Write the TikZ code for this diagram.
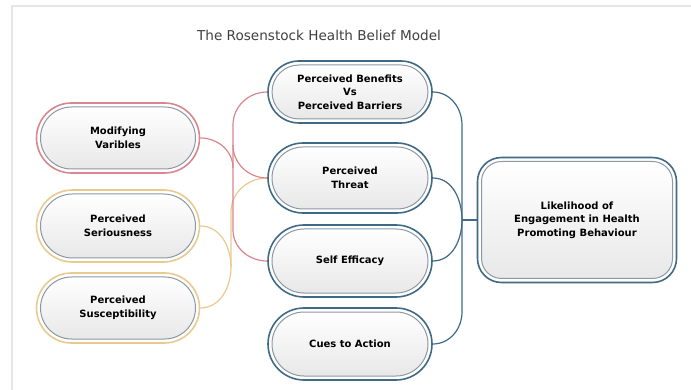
\documentclass[tikz,border=0pt]{standalone}
\usepackage{fontspec}
\setmainfont{DejaVu Sans}
\usetikzlibrary{shapes.misc}
\definecolor{hbmred}{HTML}{D9868C}
\definecolor{hbmorange}{HTML}{E8CA8E}
\definecolor{hbmblue}{HTML}{3F6A86}
\definecolor{hbminner}{HTML}{8E98A3}
\definecolor{hbmfill}{HTML}{E8E8E8}

\begin{document}
\begin{tikzpicture}[x=1pt,y=-1pt,
  outerbox/.style={rounded rectangle, draw=#1, line width=1.6pt, fill=white, inner sep=0pt},
  innerbox/.style={rounded rectangle, draw=hbminner, line width=1pt, top color=white, bottom color=hbmfill,
    align=center, font=\bfseries\fontsize{10}{13.5}\selectfont, inner sep=0pt},
  link/.style={line width=1.2pt, draw=#1},
]

\useasboundingbox (0,0) rectangle (691,390);

% faint panel edge
\draw[gray!20, line width=1.5pt] (12,390) -- (12,6) -- (691,6);

\node[font=\fontsize{13.6}{16}\selectfont, text=black!75] (title) at (319,35) {The Rosenstock Health Belief Model};

% left column
\node[outerbox=hbmred, minimum width=163pt, minimum height=70pt] (mod) at (118,138) {};
\node[innerbox, minimum width=155pt, minimum height=62pt] (mod-in) at (mod) {Modifying\\Varibles};

\node[outerbox=hbmorange, minimum width=163pt, minimum height=72pt] (ser) at (118,226) {};
\node[innerbox, minimum width=155pt, minimum height=64pt] (ser-in) at (ser) {Perceived\\Seriousness};

\node[outerbox=hbmorange, minimum width=163pt, minimum height=70pt] (sus) at (118,308) {};
\node[innerbox, minimum width=155pt, minimum height=62pt] (sus-in) at (sus) {Perceived\\Susceptibility};

% middle column
\node[outerbox=hbmblue, minimum width=164pt, minimum height=62pt] (ben) at (350,92) {};
\node[innerbox, minimum width=156pt, minimum height=54pt] (ben-in) at (ben) {Perceived Benefits\\Vs\\Perceived Barriers};

\node[outerbox=hbmblue, minimum width=164pt, minimum height=70pt] (thr) at (350,178) {};
\node[innerbox, minimum width=156pt, minimum height=62pt] (thr-in) at (thr) {Perceived\\Threat};

\node[outerbox=hbmblue, minimum width=164pt, minimum height=72pt] (eff) at (350,261) {};
\node[innerbox, minimum width=156pt, minimum height=64pt] (eff-in) at (eff) {Self Efficacy};

\node[outerbox=hbmblue, minimum width=164pt, minimum height=72pt] (cue) at (350,344) {};
\node[innerbox, minimum width=156pt, minimum height=64pt] (cue-in) at (cue) {Cues to Action};

% right box
\node[draw=hbmblue, line width=1.6pt, fill=white, rectangle, rounded corners=24pt,
      minimum width=199pt, minimum height=125pt] (lik) at (577,220) {};
\node[innerbox, rectangle, rounded corners=20pt, minimum width=191pt, minimum height=117pt] (lik-in) at (lik)
      {Likelihood of\\Engagement in Health\\Promoting Behaviour};

% junction points
\coordinate (oj) at (231,267);
\coordinate (rj) at (233,168);
\coordinate (bj) at (462,220);

% orange links
\draw[link=hbmorange] (ser.east) to[out=0,in=90] (oj) to[out=-90,in=0] (sus.east);
\draw[link=hbmorange] (thr.west) to[out=180,in=90] (231,212) -- (oj);

% red links
\draw[link=hbmred] (ben.west) to[out=180,in=90] (233,125) -- (233,230) to[out=-90,in=180] (eff.west);
\draw[link=hbmred] (233,145) to[out=-90,in=180] (thr.west);
\draw[link=hbmred] (mod.east) to[out=0,in=90] (rj);

% blue links
\draw[link=hbmblue] (ben.east) to[out=0,in=90] (462,125) -- (462,312) to[out=-90,in=0] (cue.east);
\draw[link=hbmblue] (thr.east) to[out=0,in=90] (bj) to[out=-90,in=0] (eff.east);
\draw[link=hbmblue] (bj) -- (lik.west);

\end{tikzpicture}
\end{document}
